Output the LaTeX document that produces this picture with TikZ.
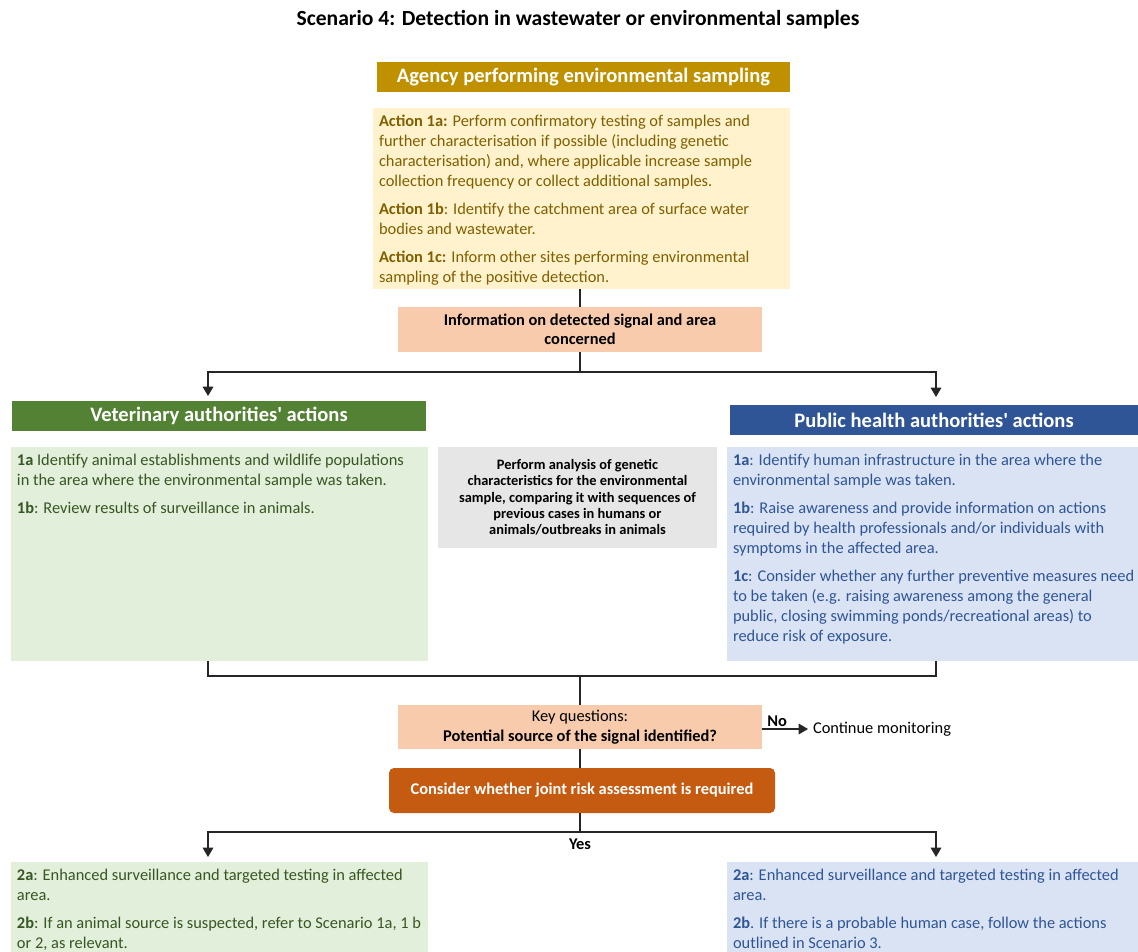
\documentclass[tikz,border=0pt]{standalone}
\usepackage{fontspec}
\setmainfont{Carlito}[Ligatures=TeXOff]
\usetikzlibrary{arrows.meta,calc}
\newlength\pxu \setlength\pxu{0.75pt}
\definecolor{gold}{HTML}{BF9000}
\definecolor{goldfill}{HTML}{FFF2CC}
\definecolor{goldtext}{HTML}{7F6000}
\definecolor{peach}{HTML}{F8CBAD}
\definecolor{vetgreen}{HTML}{548235}
\definecolor{vetfill}{HTML}{E2EFDA}
\definecolor{vettext}{HTML}{375623}
\definecolor{phblue}{HTML}{2F5597}
\definecolor{phfill}{HTML}{DAE3F3}
\definecolor{grayfill}{HTML}{E7E6E6}
\definecolor{rust}{HTML}{C55A11}
\definecolor{linec}{HTML}{262626}
\newcommand{\tbx}[3]{\begin{minipage}[c][#2\pxu][t]{#1\pxu}\fontsize{12.3}{15}\selectfont\raggedright\leftskip=6\pxu\rightskip=-30pt plus 1fil\setlength\parskip{6pt}\rule{0pt}{14.2pt}#3\end{minipage}}
\tikzset{
  every node/.style={inner sep=0pt, outer sep=0pt},
  headbox/.style={fill=#1, text=white, font=\fontsize{15.4}{17}\selectfont\bfseries, anchor=north west, minimum height=30\pxu},
  textbox/.style={anchor=north west, inner sep=0pt},
  centerbox/.style={anchor=north west, align=center},
  conn/.style={draw=linec, line width=0.8pt},
  arr/.style={conn, -{Triangle[width=8pt,length=7pt]}},
}
\begin{document}
\begin{tikzpicture}[x=0.75pt,y=-0.75pt]
\useasboundingbox (0,0) rectangle (1138,952);
\fill[white] (0,0) rectangle (1138,952);

\node[font=\fontsize{16.2}{18}\selectfont\bfseries] (title) at (578,20) {Scenario 4: Detection in wastewater or environmental samples};

\node[headbox=gold, minimum width=413\pxu] (agency) at (377,62) {Agency performing environmental sampling};

\node[textbox, fill=goldfill, text=goldtext] (act) at (373,108) {\tbx{417}{181}{%
\textbf{Action 1a:} Perform confirmatory testing of samples and\\ further characterisation if possible (including genetic\\ characterisation) and, where applicable increase sample\\ collection frequency or collect additional samples.\par
\textbf{Action 1b}: Identify the catchment area of surface water\\ bodies and wastewater.\par
\textbf{Action 1c:} Inform other sites performing environmental\\ sampling of the positive detection.}};

\node[centerbox, fill=peach, minimum width=364\pxu, minimum height=45\pxu, font=\fontsize{12.3}{14.3}\selectfont\bfseries] (info) at (398,307) {Information on detected signal and area\\ concerned};

\node[headbox=vetgreen, minimum width=414\pxu] (vethead) at (12,401) {Veterinary authorities' actions};
\node[headbox=phblue, minimum width=408\pxu] (phhead) at (730,405) {Public health authorities' actions};

\node[textbox, fill=vetfill, text=vettext] (vet) at (11,447) {\tbx{417}{214}{%
\textbf{1a} Identify animal establishments and wildlife populations\\ in the area where the environmental sample was taken.\par
\textbf{1b}: Review results of surveillance in animals.}};

\node[centerbox, fill=grayfill, minimum width=279\pxu, minimum height=101\pxu, font=\fontsize{10.8}{12.2}\selectfont\bfseries] (gen) at (438,447) {Perform analysis of genetic\\ characteristics for the environmental\\ sample, comparing it with sequences of\\ previous cases in humans or\\ animals/outbreaks in animals};

\node[textbox, fill=phfill, text=phblue] (ph) at (727,447) {\tbx{411}{214}{%
\textbf{1a}: Identify human infrastructure in the area where the\\ environmental sample was taken.\par
\textbf{1b}: Raise awareness and provide information on actions\\ required by health professionals and/or individuals with\\ symptoms in the affected area.\par
\textbf{1c}: Consider whether any further preventive measures need\\ to be taken (e.g. raising awareness among the general\\ public, closing swimming ponds/recreational areas) to\\ reduce risk of exposure.}};

\node[centerbox, fill=peach, minimum width=364\pxu, minimum height=44\pxu, font=\fontsize{12.3}{15}\selectfont] (key) at (398,705) {Key questions:\\ \textbf{Potential source of the signal identified?}};

\node[anchor=west, font=\fontsize{12.3}{15}\selectfont] (cont) at (813,729) {Continue monitoring};

\node[centerbox, fill=rust, text=white, rounded corners=5\pxu, minimum width=386\pxu, minimum height=45\pxu, font=\fontsize{12.3}{15}\selectfont\bfseries] (jra) at (389,768) {Consider whether joint risk assessment is required};

\node[textbox, fill=vetfill, text=vettext] (vet2) at (11,862) {\tbx{417}{90}{%
\textbf{2a}: Enhanced surveillance and targeted testing in affected\\ area.\par
\textbf{2b}: If an animal source is suspected, refer to Scenario 1a, 1 b\\ or 2, as relevant.}};

\node[textbox, fill=phfill, text=phblue] (ph2) at (727,862) {\tbx{411}{90}{%
\textbf{2a}: Enhanced surveillance and targeted testing in affected\\ area.\par
\textbf{2b}. If there is a probable human case, follow the actions\\ outlined in Scenario 3.}};

% connectors
\coordinate (s1) at (580,372);
\coordinate (vetin) at (208,396);
\coordinate (phin) at (936,397);
\draw[conn] (info.north |- act.south) -- (info.north);
\draw[conn] (info.south) -- (s1);
\draw[arr] (s1) -| (vetin);
\draw[arr] (s1) -| (phin);

\coordinate (m0) at (580,676);
\coordinate (m1) at (208,676);
\coordinate (m2) at (936,676);
\draw[conn] (vet.south -| m1) -- (m1) -- (m2) -- (ph.south -| m2);
\draw[conn] (m0) -- (key.north);

\draw[arr] (key.east |- cont.west) -- ([xshift=-5\pxu]cont.west) node[pos=0.33, above=2pt, font=\fontsize{12.3}{13}\selectfont\bfseries] (no) {No};

\draw[conn] (key.south) -- (key.south |- jra.north);

\coordinate (s2) at (580,832);
\coordinate (v2in) at (208,857);
\coordinate (p2in) at (936,857);
\draw[conn] (key.south |- jra.south) -- (s2);
\draw[arr] (s2) -| (v2in);
\draw[arr] (s2) -| (p2in);
\node[font=\fontsize{12.3}{13}\selectfont\bfseries] (yes) at (580,844) {Yes};
\end{tikzpicture}
\end{document}
